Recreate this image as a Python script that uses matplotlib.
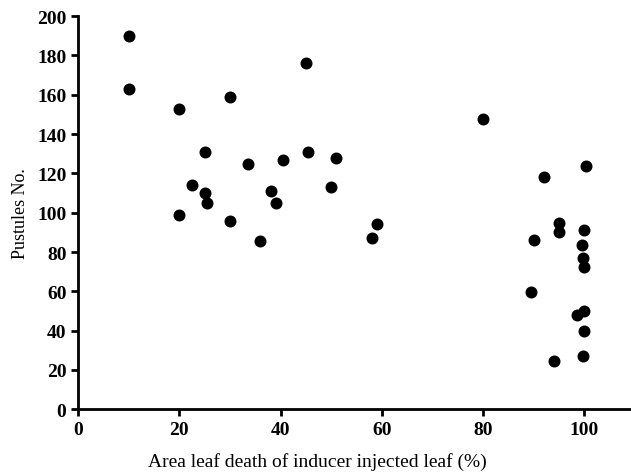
import numpy as np
import matplotlib
matplotlib.use("Agg")
import matplotlib.pyplot as plt

# area leaf death (%) vs pustule count
leaf_death = [10, 10, 20, 20, 22.5, 25, 25, 25.5, 30, 30, 33.5, 36, 38, 39, 40.5,
              45, 45.5, 50, 51, 58, 59, 80, 89.5, 90, 92, 94, 95, 95, 98.5, 99.5,
              100, 99.8, 100, 100, 100, 99.8, 100.3]
pustules = [190, 163, 153, 99, 114, 131, 110, 105, 159, 96, 125, 85.5, 111, 105, 127,
            176, 131, 113, 128, 87, 94, 147.5, 59.5, 86, 118, 24.5, 95, 90, 48, 83.5,
            91, 77, 72.5, 50, 40, 27, 124]

plt.rcParams['font.family'] = ['Liberation Serif', 'DejaVu Serif']

fig = plt.figure(figsize=(6.31, 4.77), dpi=100)
ax = fig.add_axes([0.124, 0.140, 0.874, 0.824])
ax.scatter(leaf_death, pustules, s=58, color='black', zorder=3, clip_on=False)

ax.set_xlim(0, 109)
ax.set_ylim(0, 200)
ax.set_xticks([0, 20, 40, 60, 80, 100])
ax.set_yticks(np.arange(0, 201, 20))
ax.spines['top'].set_visible(False)
ax.spines['right'].set_visible(False)
ax.spines['left'].set_linewidth(2)
ax.spines['bottom'].set_linewidth(2)
ax.tick_params(direction='out', length=5, width=2, labelsize=14)
for lab in ax.get_xticklabels() + ax.get_yticklabels():
    lab.set_fontweight('bold')

fig.text(317 / 631, 1 - 462 / 477, 'Area leaf death of inducer injected leaf (%)',
         fontsize=14, ha='center', va='center')
ax.set_ylabel('Pustules No.', fontsize=13, labelpad=6)

fig.savefig('out.png', dpi=100)
